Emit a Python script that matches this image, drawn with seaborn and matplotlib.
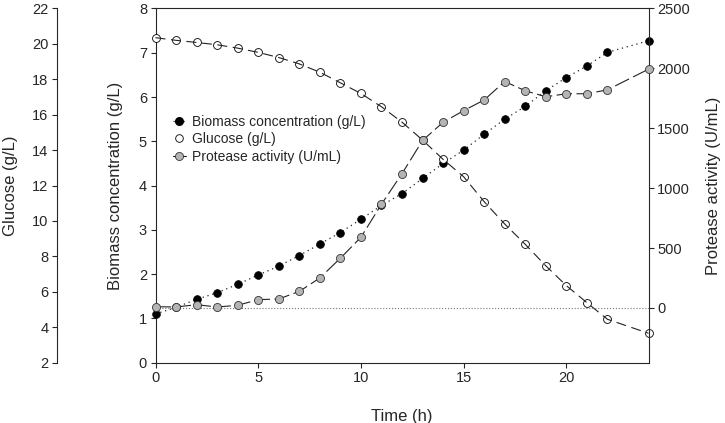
import matplotlib.pyplot as plt
import seaborn as sns
from matplotlib.lines import Line2D


time_h = [0, 1, 2, 3, 4, 5, 6, 7, 8, 9, 10, 11, 12, 13, 14, 15, 16, 17, 18, 19, 20, 21, 22, 24]
biomass = [1.10, 1.25, 1.43, 1.58, 1.77, 1.98, 2.18, 2.42, 2.68, 2.94, 3.24, 3.55,
           3.82, 4.16, 4.50, 4.80, 5.16, 5.50, 5.79, 6.14, 6.44, 6.70, 7.01, 7.27]
glucose = [20.35, 20.2, 20.08, 19.95, 19.76, 19.52, 19.23, 18.87, 18.4, 17.8, 17.2, 16.45,
           15.58, 14.57, 13.48, 12.5, 11.09, 9.83, 8.68, 7.47, 6.35, 5.39, 4.45, 3.66]
protease = [10, 8, 27, 8, 22, 69, 75, 138, 250, 415, 590, 866,
            1121, 1398, 1550, 1647, 1736, 1890, 1813, 1763, 1788, 1788, 1821, 1993]

x_ticks = [0, 5, 10, 15, 20]
biomass_ticks = list(range(0, 9))
glucose_ticks = list(range(2, 23, 2))
protease_ticks = [0, 500, 1000, 1500, 2000, 2500]


def style_ticks(axis):
    axis.tick_params(direction="out", length=3.6, width=0.8, labelsize=10.5, pad=2.5)


def main():
    sns.set_style("ticks")
    plt.rcParams["font.family"] = ["Liberation Sans", "DejaVu Sans"]
    plt.rcParams["axes.linewidth"] = 0.8

    fig, ax = plt.subplots(figsize=(7.25, 4.23), dpi=100)
    fig.subplots_adjust(left=0.2145, right=0.8945, top=0.980, bottom=0.1426)

    ax_g = ax.twinx()
    ax_p = ax.twinx()

    # glucose: outer left axis
    ax_g.spines["left"].set_position(("axes", -0.1998))
    ax_g.spines["left"].set_visible(True)
    for side in ["right", "top", "bottom"]:
        ax_g.spines[side].set_visible(False)
    ax_g.yaxis.set_ticks_position("left")
    ax_g.yaxis.set_label_position("left")

    ax.spines["right"].set_visible(False)
    ax_p.spines["left"].set_visible(False)
    ax_p.spines["top"].set_visible(False)
    ax_p.spines["bottom"].set_visible(False)

    ax_p.axhline(0, color="#777777", linestyle=":", linewidth=0.8, zorder=1)

    sns.lineplot(x=time_h, y=biomass, ax=ax, color="#222222", linewidth=0.9,
                 linestyle=(0, (1, 3)), marker="o", markersize=5.5,
                 markerfacecolor="black", markeredgecolor="black",
                 markeredgewidth=0.6, clip_on=False, zorder=3)

    sns.lineplot(x=time_h, y=glucose, ax=ax_g, color="#222222", linewidth=0.8,
                 linestyle=(0, (9, 5)), zorder=3, clip_on=False)
    sns.scatterplot(x=time_h, y=glucose, ax=ax_g, s=32, color="white",
                    edgecolor="black", linewidth=0.6, zorder=2, clip_on=False)

    sns.lineplot(x=time_h, y=protease, ax=ax_p, color="#222222", linewidth=0.8,
                 linestyle=(0, (14, 4)), marker="o", markersize=5.8,
                 markerfacecolor="#b4b4b4", markeredgecolor="#333333",
                 markeredgewidth=0.6, clip_on=False, zorder=3)

    ax.set_xlim(0, 24)
    ax.set_ylim(0, 8)
    ax_g.set_ylim(2, 22)
    ax_p.set_ylim(-457, 2500)
    ax.set_xticks(x_ticks)
    ax.set_yticks(biomass_ticks)
    ax_g.set_yticks(glucose_ticks)
    ax_p.set_yticks(protease_ticks)

    for axis in (ax, ax_g, ax_p):
        style_ticks(axis)

    ax.set_xlabel("Time (h)", fontsize=12, labelpad=17)
    ax.set_ylabel("Biomass concentration (g/L)", fontsize=12)
    ax_g.set_ylabel("Glucose (g/L)", fontsize=12)
    ax_p.set_ylabel("Protease activity (U/mL)", fontsize=12)
    ax.yaxis.set_label_coords(-0.066, 0.5)
    ax_g.yaxis.set_label_coords(-0.279, 0.5)
    ax_p.yaxis.set_label_coords(1.1166, 0.5)

    handles = [
        Line2D([], [], color="#222222", linewidth=0.9, linestyle=(0, (1, 3)),
               marker="o", markersize=5.5, markerfacecolor="black",
               markeredgecolor="black"),
        Line2D([], [], linestyle="none", marker="o", markersize=5.5,
               markerfacecolor="white", markeredgecolor="black",
               markeredgewidth=0.6),
        Line2D([], [], color="#222222", linewidth=0.8, marker="o",
               markersize=5.8, markerfacecolor="#b4b4b4",
               markeredgecolor="#333333", markeredgewidth=0.6),
    ]
    labels = ["Biomass concentration (g/L)", "Glucose (g/L)", "Protease activity (U/mL)"]
    ax_p.legend(handles, labels, loc="center left", bbox_to_anchor=(0.238, 0.671),
                bbox_transform=fig.transFigure, frameon=False, fontsize=10,
                handlelength=1.0, handletextpad=0.4, labelspacing=0.26,
                borderpad=0, borderaxespad=0)

    fig.savefig("out.png", dpi=100)
    plt.close(fig)


if __name__ == "__main__":
    main()
